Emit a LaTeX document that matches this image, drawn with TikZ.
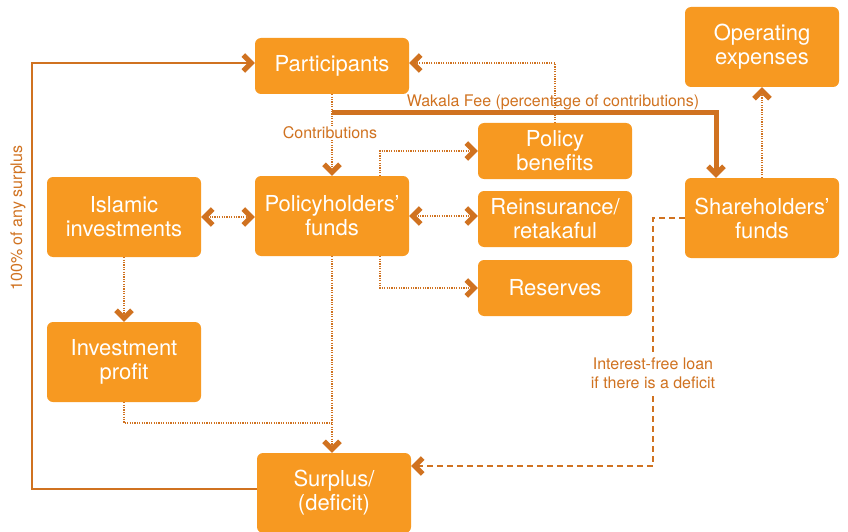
\documentclass[tikz,border=0pt]{standalone}
\usepackage{fontspec}
\setmainfont{TeX Gyre Heros}
\usetikzlibrary{arrows.meta}
\definecolor{takafill}{RGB}{247,153,33}
\definecolor{takaline}{RGB}{208,114,32}
\tikzset{
box/.style={ % orange boxes with white text
rectangle, rounded corners=6pt,
fill=takafill, text=white,
align=center, minimum width=154pt, inner sep=2pt,
font=\fontsize{22}{24}\selectfont},
smallbox/.style={box, minimum height=56pt},
bigbox/.style={box, minimum height=80pt},
note/.style={ % labels on the connectors
text=takaline, align=center,
font=\fontsize{16}{19}\selectfont},
chev/.tip={Straight Barb[length=8pt,width=16pt,line width=5pt]},
flow/.style={draw=takaline, line width=2.2pt}, % solid connectors
dots/.style={draw=takaline, line width=1.8pt, dash pattern=on 1.2pt off 1.2pt},
loan/.style={draw=takaline, line width=2pt, dash pattern=on 6pt off 4pt}}

\begin{document}
\begin{tikzpicture}[x=1pt,y=-1pt]
	\useasboundingbox (0,0) rectangle (848,532);
	\node[smallbox] (part) at (332,66) {Participants};
	\node[bigbox] (opex) at (762,47) {Operating\\expenses};
	\node[smallbox] (benef) at (555,151) {Policy\\benefits};
	\node[bigbox] (islam) at (124,217) {Islamic\\investments};
	\node[bigbox] (phf) at (332,216) {Policyholders'\\funds};
	\node[smallbox] (reins) at (555,219) {Reinsurance/\\retakaful};
	\node[bigbox] (shf) at (762,218) {Shareholders'\\funds};
	\node[smallbox] (resv) at (555,288) {Reserves};
	\node[bigbox] (invp) at (124,362) {Investment\\profit};
	\node[bigbox] (surp) at (334,493) {Surplus/\\(deficit)};
	\coordinate (lx) at (32,0);
	\coordinate (wkstart) at (332,113);
	\coordinate (jn) at (332,423);
	\coordinate (lnx) at (653,0);
	\coordinate (lnend) at ([yshift=27pt]surp.east);
	% surplus back to participants
	\draw[flow,-chev] ([yshift=4pt]surp.west) -- ([yshift=4pt]surp.west -| lx) |- ([yshift=3pt]part.west);
	\node[note, rotate=90] (lsurp) at (18,218) {100\% of any surplus};
	\draw[dots,-chev] (part.south) -- (phf.north);
	\node[note, fill=white, inner sep=1pt] (lcontr) at (330,133) {Contributions};
	\draw[dots,-chev] (benef.north) |- ([yshift=3pt]part.east);
	\draw[flow, line width=5pt, -chev] (wkstart) -| ([xshift=-46pt]shf.north);
	\node[note] (lwk) at (553,102) {Wakala Fee (percentage of contributions)};
	\draw[dots,-chev] ([xshift=48pt]phf.north) |- (benef.west);
	\draw[dots,chev-chev] (islam.east) -- (islam.east -| phf.west);
	\draw[dots,chev-chev] (phf.east) -- (phf.east -| reins.west);
	\draw[dots,-chev] ([xshift=48pt]phf.south) |- (resv.west);
	\draw[dots,-chev] (islam) -- (invp);
	\draw[dots,-chev] (phf.south) -- (phf.south |- surp.north);
	\draw[dots] (invp.south) |- (jn);
	\draw[dots,-chev] (shf.north) -- (opex.south);
	% loan from the shareholders
	\draw[loan,-chev] (shf.west) -- (shf.west -| lnx) -- (lnx |- lnend) -- (lnend);
	\node[note, fill=white] (lloan) at (653,373) {Interest-free loan\\if there is a deficit};
\end{tikzpicture}
\end{document}
